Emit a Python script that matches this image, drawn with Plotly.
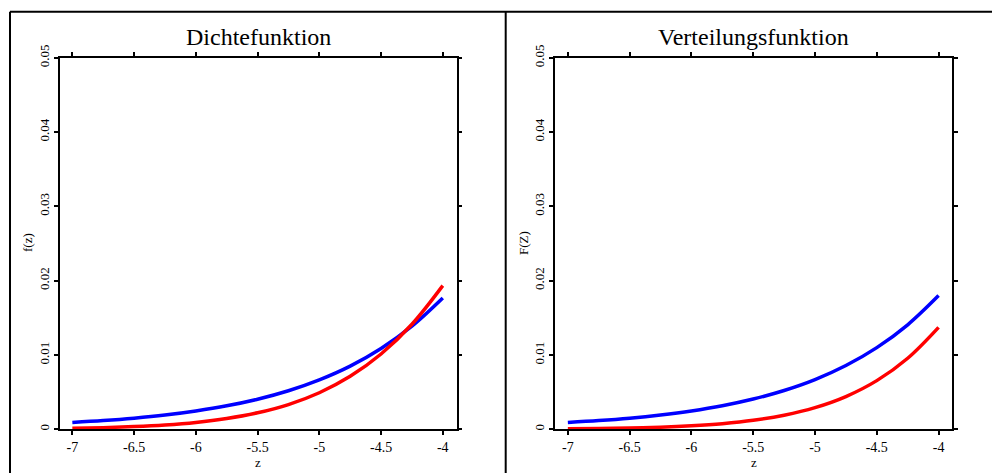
import plotly.graph_objects as go

W, H = 992, 473

z = [-7.0, -6.75, -6.5, -6.25, -6.0, -5.75, -5.5, -5.25, -5.0, -4.75, -4.5, -4.25, -4.0]

# Dichtefunktion (density)
dens_blue = [0.00091, 0.00117, 0.00150, 0.00192, 0.00247, 0.00316, 0.00405,
             0.00519, 0.00665, 0.00850, 0.01087, 0.01387, 0.01766]
dens_red = [0.00013, 0.00022, 0.00036, 0.00058, 0.00092, 0.00145, 0.00222,
            0.00333, 0.00492, 0.00713, 0.01013, 0.01413, 0.01933]

# Verteilungsfunktion (distribution)
cdf_blue = [0.00091, 0.00117, 0.00150, 0.00193, 0.00247, 0.00317, 0.00407,
            0.00522, 0.00669, 0.00858, 0.01099, 0.01406, 0.01799]
cdf_red = [0.00006, 0.00010, 0.00017, 0.00028, 0.00047, 0.00076, 0.00121,
           0.00190, 0.00292, 0.00441, 0.00655, 0.00956, 0.01372]

x_tickvals = [-7, -6.5, -6, -5.5, -5, -4.5, -4]
x_ticktext = ["-7", "-6.5", "-6", "-5.5", "-5", "-4.5", "-4"]
y_tickvals = [0, 0.01, 0.02, 0.03, 0.04, 0.05]
y_ticktext = ["0", "0.01", "0.02", "0.03", "0.04", "0.05"]

titles = ["Dichtefunktion", "Verteilungsfunktion"]
x_title = "z"
y_titles = ["f(z)", "F(Z)"]

FONT = "'Liberation Serif', 'Times New Roman', serif"

def fx(px):
    return px / W

def fy(py):
    return 1 - py / H

dom_x = [[fx(59.5), fx(456.5)], [fx(555.0), fx(952.3)]]
dom_y = [fy(429.3), fy(57.7)]

fig = go.Figure()

BLUE = "#0000ff"
RED = "#ff0000"

for i, (b, r) in enumerate([(dens_blue, dens_red), (cdf_blue, cdf_red)]):
    xa = "x" if i == 0 else "x2"
    ya = "y" if i == 0 else "y2"
    fig.add_trace(go.Scatter(x=z, y=b, mode="lines", line=dict(color=BLUE, width=3.5, shape="spline"),
                             xaxis=xa, yaxis=ya, showlegend=False))
    fig.add_trace(go.Scatter(x=z, y=r, mode="lines", line=dict(color=RED, width=3.5, shape="spline"),
                             xaxis=xa, yaxis=ya, showlegend=False))

axis_common = dict(showline=True, linecolor="black", linewidth=1.5, mirror="ticks",
                   ticks="outside", ticklen=4, tickwidth=1.5, tickcolor="black",
                   showgrid=False, zeroline=False, fixedrange=True)

for i in range(2):
    sfx = "" if i == 0 else "2"
    fig.update_layout(**{
        "xaxis" + sfx: dict(axis_common, domain=dom_x[i], range=[-7.104, -3.889],
                            tickvals=x_tickvals, ticktext=x_ticktext,
                            tickfont=dict(family=FONT, size=14, color="black"),
                            anchor="y" + sfx),
        "yaxis" + sfx: dict(axis_common, domain=dom_y, range=[0, 0.05],
                            tickvals=y_tickvals, ticktext=y_ticktext, tickangle=-90,
                            tickfont=dict(family=FONT, size=13, color="black"),
                            anchor="x" + sfx),
    })

annotations = []
centers = [(59.5 + 456.5) / 2, (555.0 + 952.3) / 2]
ytitle_x = [27, 523]
for i in range(2):
    annotations.append(dict(text=titles[i], x=fx(centers[i]), y=fy(37), xref="paper", yref="paper",
                            xanchor="center", yanchor="middle", showarrow=False,
                            font=dict(family=FONT, size=24, color="black")))
    annotations.append(dict(text=x_title, x=fx(centers[i]), y=fy(472), xref="paper", yref="paper",
                            xanchor="center", yanchor="bottom", showarrow=False,
                            font=dict(family=FONT, size=13, color="black")))
    annotations.append(dict(text=y_titles[i], x=fx(ytitle_x[i]), y=fy(243), xref="paper", yref="paper",
                            xanchor="center", yanchor="middle", showarrow=False, textangle=-90,
                            font=dict(family=FONT, size=13, color="black")))

shapes = [
    dict(type="line", xref="paper", yref="paper", x0=fx(10), x1=fx(10), y0=fy(11.7), y1=fy(480),
         line=dict(color="black", width=2)),
    dict(type="line", xref="paper", yref="paper", x0=fx(10), x1=fx(1000), y0=fy(11.7), y1=fy(11.7),
         line=dict(color="black", width=2)),
    dict(type="line", xref="paper", yref="paper", x0=fx(505.7), x1=fx(505.7), y0=fy(11.7), y1=fy(480),
         line=dict(color="black", width=2)),
]

fig.update_layout(width=W, height=H, margin=dict(l=0, r=0, t=0, b=0),
                  template="none", paper_bgcolor="white", plot_bgcolor="white",
                  annotations=annotations, shapes=shapes, showlegend=False)

fig.write_html("out.html", config={"displayModeBar": False})
